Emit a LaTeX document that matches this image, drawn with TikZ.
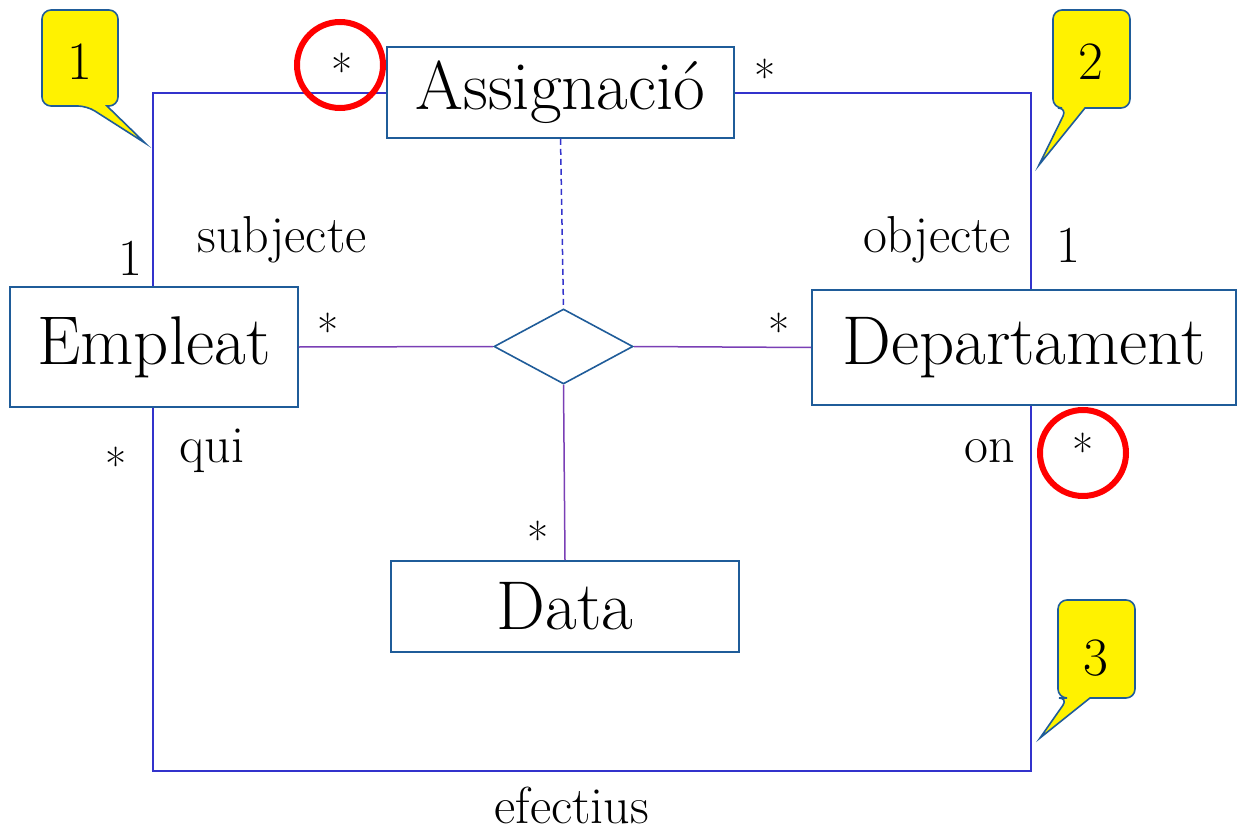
\documentclass[tikz,border=0pt]{standalone}
\usetikzlibrary{shapes.geometric}
\definecolor{boxblue}{HTML}{1F5C99}
\definecolor{loopblue}{HTML}{3333CC}
\definecolor{relpurple}{HTML}{7A3FB5}
\begin{document}
\begin{tikzpicture}[x=1pt,y=-1pt,
  entity/.style={draw=boxblue,line width=1.6pt,rectangle,inner sep=0pt,fill=white,font=\fontsize{69}{72}\selectfont},
  loopline/.style={draw=loopblue,line width=1.5pt},
  relline/.style={draw=relpurple,line width=1.5pt},
  lbl/.style={inner sep=0pt,font=\fontsize{52}{56}\selectfont},
  star/.style={inner sep=0pt,font=\fontsize{46}{50}\selectfont},
  redring/.style={draw=red,line width=6pt},
  callout/.style={draw=boxblue,line width=1.6pt,fill=yellow,rounded corners=9pt},
  calltxt/.style={inner sep=0pt,font=\fontsize{54}{58}\selectfont}]
\useasboundingbox (0,0) rectangle (1237,832);
% entities
\node[entity,minimum width=347pt,minimum height=91pt] (asg) at (560.5,92.5) {Assignació};
\node[entity,minimum width=288pt,minimum height=120pt] (emp) at (154,347) {Empleat};
\node[entity,minimum width=424pt,minimum height=115pt] (dep) at (1024,347.5) {Departament};
\node[entity,minimum width=348pt,minimum height=91pt] (dat) at (565,606.5) {Data};
\node[diamond,draw=boxblue,line width=1.6pt,minimum width=139pt,minimum height=75pt,inner sep=0pt,aspect=1.85] (rel) at (563.5,346.5) {};
% loop coordinates
\coordinate (c1) at (153,93);
\coordinate (c2) at (1031,93);
\coordinate (c3) at (153,771);
\coordinate (c4) at (1031,771);
\draw[loopline] (asg.west |- c1) -- (c1) -- (c1 |- emp.north);
\draw[loopline] (asg.east |- c2) -- (c2) -- (c2 |- dep.north);
\draw[loopline] (c3 |- emp.south) -- (c3) -- (c4) -- (c4 |- dep.south);
\draw[draw=loopblue,line width=1.5pt,dash pattern=on 6pt off 4pt] (asg.south) -- (rel.north);
\draw[relline] (emp.east) -- (rel.west);
\draw[relline] (rel.east) -- (dep.west);
\draw[relline] (rel.south) -- (dat.north);
% labels
\node[star] (s1) at (342,70) {*};
\node[star] (s2) at (765,76) {*};
\node[star] (s3) at (328,330) {*};
\node[star] (s4) at (779,330) {*};
\node[star] (s5) at (116,464) {*};
\node[star] (s6) at (1083,450) {*};
\node[star] (s7) at (538,538) {*};
\node[lbl] (n1) at (130,258) {1};
\node[lbl] (n2) at (1068,245) {1};
\node[lbl] (subj) at (282,240) {subjecte};
\node[lbl] (obj) at (937,240) {objecte};
\node[lbl] (qui) at (212,451) {qui};
\node[lbl] (on) at (990,451) {on};
\node[lbl,anchor=base] (ef) at (572,823) {efectius};
% red rings
\draw[redring] (340,65) circle (43);
\draw[redring] (1083,453) circle (43);
% callouts
\draw[callout] (87,106) [sharp corners]-- (145,143) -- (107,106) [rounded corners=9pt]-- (118,106) -- (118,10) -- (42,10) -- (42,106) -- cycle;
\node[calltxt] (k1) at (80,62) {1};
\draw[callout] (1067,108) [sharp corners]-- (1039,165) -- (1085,108) [rounded corners=9pt]-- (1130,108) -- (1130,10) -- (1053,10) -- (1053,108) -- cycle;
\node[calltxt] (k2) at (1091,62) {2};
\draw[callout] (1068,698) [sharp corners]-- (1040,738) -- (1090,698) [rounded corners=9pt]-- (1135,698) -- (1135,600) -- (1058,600) -- (1058,698) -- cycle;
\node[calltxt] (k3) at (1096,658) {3};
\end{tikzpicture}
\end{document}
